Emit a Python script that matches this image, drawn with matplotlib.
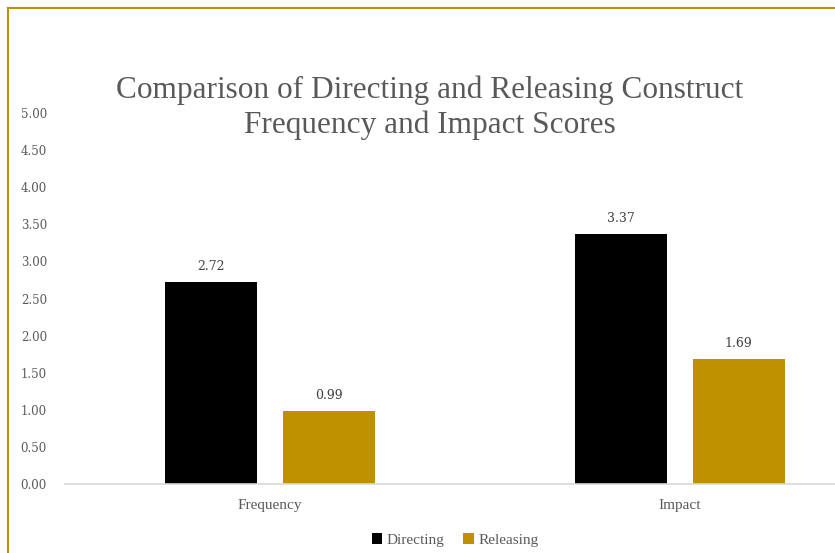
import matplotlib.pyplot as plt
import numpy as np
from matplotlib.lines import Line2D

# data
categories = ["Frequency", "Impact"]
directing = [2.72, 3.37]
releasing = [0.99, 1.69]
series_names = ["Directing", "Releasing"]
yticks = [0.0, 0.5, 1.0, 1.5, 2.0, 2.5, 3.0, 3.5, 4.0, 4.5, 5.0]

gold = "#BF9000"
grey = "#595959"

fig = plt.figure(figsize=(8.35, 5.53), dpi=100)
# axes runs past the right edge, the reference is cropped there
ax = fig.add_axes([65 / 835, 1 - 484 / 553, 820 / 835, 371 / 553])

x = np.arange(len(categories))
w = 0.224
b1 = ax.bar(x - 0.144, directing, w, color="black", label=series_names[0])
b2 = ax.bar(x + 0.143, releasing, w, color=gold, label=series_names[1])

for bars, vals in [(b1, directing), (b2, releasing)]:
    for r, v in zip(bars, vals):
        ax.text(r.get_x() + r.get_width() / 2, v + 0.12, "%.2f" % v,
                ha="center", va="bottom", fontsize=9, color="#404040",
                family="DejaVu Serif")

ax.set_xlim(-0.5, 1.5)
ax.set_ylim(0, 5)
ax.set_yticks(yticks)
ax.set_yticklabels(["%.2f" % t for t in yticks], family="DejaVu Serif",
                   fontsize=8.5, color=grey)
ax.set_xticks(x)
ax.set_xticklabels(categories, family="Liberation Serif", fontsize=11, color=grey)
ax.tick_params(axis="y", length=0, pad=13)
ax.tick_params(axis="x", length=0, pad=11)
for s in ["top", "right", "left"]:
    ax.spines[s].set_visible(False)
ax.spines["bottom"].set_color("#D9D9D9")
ax.spines["bottom"].set_linewidth(1.2)

fig.text(430 / 835, 1 - 108 / 553,
         "Comparison of Directing and Releasing Construct\nFrequency and Impact Scores",
         ha="center", va="center", fontsize=22.5, color=grey,
         family="Liberation Serif", linespacing=1.25)

fig.legend(handles=[b1, b2], loc="center", bbox_to_anchor=(455 / 835, 1 - 540 / 553),
           ncol=2, frameon=False, handlelength=0.7, handleheight=0.7,
           handletextpad=0.3, columnspacing=1.2,
           prop={"family": "Liberation Serif", "size": 11}, labelcolor=grey)

# gold frame on the top and left edges
fig.add_artist(Line2D([8 / 835, 1], [1 - 8 / 553, 1 - 8 / 553], color=gold, lw=1.5))
fig.add_artist(Line2D([8 / 835, 8 / 835], [0, 1 - 8 / 553], color=gold, lw=1.5))

fig.savefig("out.png", dpi=100)
